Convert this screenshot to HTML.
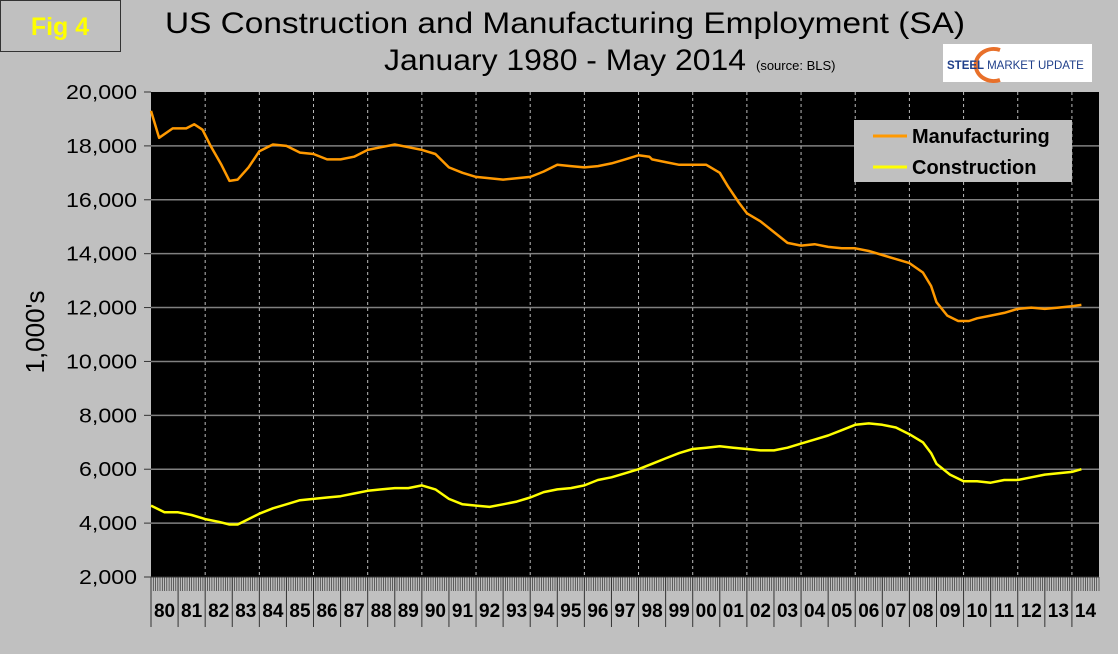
<!DOCTYPE html>
<html><head><meta charset="utf-8"><style>
body{margin:0;width:1118px;height:649px;background:#c0c0c0;overflow:hidden;font-family:"Liberation Sans",sans-serif}
</style></head><body>
<svg width="1118" height="649" viewBox="0 0 1118 649">
<rect x="0" y="0" width="1118" height="649" fill="#c0c0c0"/>
<rect x="0.5" y="0.5" width="120" height="51" fill="#c0c0c0" stroke="#333"/>
<text x="60" y="35" font-size="25" font-weight="bold" fill="#ffff00" text-anchor="middle">Fig 4</text>
<text x="165" y="33" font-size="30" textLength="800" lengthAdjust="spacingAndGlyphs" fill="#000">US Construction and Manufacturing Employment (SA)</text>
<text x="384" y="70" font-size="30" textLength="362" lengthAdjust="spacingAndGlyphs" fill="#000">January 1980 - May 2014</text>
<text x="756" y="70" font-size="13" fill="#000">(source: BLS)</text>
<g>
<rect x="943" y="44" width="149" height="38" fill="#fff"/>
<path d="M1000 50 A18 16 0 1 0 1000 80" fill="none" stroke="#e8702a" stroke-width="4"/>
<text x="947" y="69" font-size="11.5" font-weight="bold" fill="#1f3f8a">STEEL <tspan font-weight="normal">MARKET UPDATE</tspan></text>
</g>
<text transform="translate(44,332) rotate(-90)" font-size="26" text-anchor="middle" fill="#000">1,000's</text>
<g id="plot"></g>
</svg>
<script>
const yTicks=[2000,4000,6000,8000,10000,12000,14000,16000,18000,20000];
const yearLabels=["80","81","82","83","84","85","86","87","88","89","90","91","92","93","94","95","96","97","98","99","00","01","02","03","04","05","06","07","08","09","10","11","12","13","14"];
const mfgT=[1980,1980.3,1980.8,1981.3,1981.6,1981.9,1982.2,1982.6,1982.9,1983.2,1983.6,1984,1984.5,1985,1985.5,1986,1986.5,1987,1987.5,1988,1988.5,1989,1989.5,1990,1990.5,1991,1991.5,1992,1992.5,1993,1993.5,1994,1994.5,1995,1995.5,1996,1996.5,1997,1997.5,1998,1998.4,1998.5,1999,1999.5,2000,2000.5,2001,2001.3,2001.7,2002,2002.5,2003,2003.5,2004,2004.5,2005,2005.5,2006,2006.5,2007,2007.5,2008,2008.5,2008.8,2009,2009.4,2009.8,2010.2,2010.5,2011,2011.5,2012,2012.5,2013,2013.5,2014,2014.35];
const mfgV=[19300,18300,18650,18650,18800,18600,18000,17300,16700,16750,17200,17800,18050,18000,17750,17700,17500,17500,17600,17850,17950,18050,17950,17850,17700,17200,17000,16850,16800,16750,16800,16850,17050,17300,17250,17200,17250,17350,17500,17650,17600,17500,17400,17300,17300,17300,17000,16500,15900,15500,15200,14800,14400,14300,14350,14250,14200,14200,14100,13950,13800,13650,13300,12800,12200,11700,11500,11500,11600,11700,11800,11950,12000,11950,12000,12050,12100];
const conT=[1980,1980.5,1981,1981.5,1982,1982.5,1982.9,1983.2,1983.6,1984,1984.5,1985,1985.5,1986,1986.5,1987,1987.5,1988,1988.5,1989,1989.5,1990,1990.5,1991,1991.5,1992,1992.5,1993,1993.5,1994,1994.5,1995,1995.5,1996,1996.5,1997,1997.5,1998,1998.5,1999,1999.5,2000,2000.5,2001,2001.5,2002,2002.5,2003,2003.5,2004,2004.5,2005,2005.5,2006,2006.5,2007,2007.5,2008,2008.5,2008.8,2009,2009.5,2010,2010.5,2011,2011.5,2012,2012.5,2013,2013.5,2014,2014.35];
const conV=[4650,4400,4400,4300,4150,4050,3950,3950,4150,4350,4550,4700,4850,4900,4950,5000,5100,5200,5250,5300,5300,5400,5250,4900,4700,4650,4600,4700,4800,4950,5150,5250,5300,5400,5600,5700,5850,6000,6200,6400,6600,6750,6800,6850,6800,6750,6700,6700,6800,6950,7100,7250,7450,7650,7700,7650,7550,7300,7000,6600,6200,5800,5550,5550,5500,5600,5600,5700,5800,5850,5900,6000];
const L=151,R=1099,T=92,B=577,NS="http://www.w3.org/2000/svg";
const yr=(B-T)/18000, xpy=(R-L)/35;
const X=t=>L+(t-1980)*xpy, Y=v=>B-(v-2000)*yr;
const g=document.getElementById('plot');
function mk(tag,a){const e=document.createElementNS(NS,tag);for(const k in a)e.setAttribute(k,a[k]);g.appendChild(e);return e;}
let e=mk('rect',{x:L,y:T,width:R-L,height:B-T,fill:'#000'});


yTicks.forEach(v=>{
 if(v>2000&&v<20000){const l=mk('line',{x1:L,x2:R,y1:Y(v),y2:Y(v),stroke:'#808080','stroke-width':1.5});
 
 }
 const tk=mk('line',{x1:L-7,x2:L,y1:Y(v),y2:Y(v),stroke:'#333'});
 
 
 const t=mk('text',{x:L-14,y:Y(v)+7,'font-size':20,'text-anchor':'end',fill:'#000',textLength:71,lengthAdjust:'spacingAndGlyphs'});t.textContent=v.toLocaleString('en-US');
 if(v<10000){t.setAttribute('textLength',58);}
 
 
});
for(let i=2;i<35;i+=2){const d=mk('line',{x1:X(1980+i),x2:X(1980+i),y1:T,y2:B,stroke:'#bbb','stroke-dasharray':'3,3'});
 
 }
let p='';for(let m=0;m<=420;m++){const x=L+m*xpy/12;p+=`M${x.toFixed(1)} ${B}V${B+14}`;}
e=mk('path',{d:p,stroke:'#333','stroke-width':0.7,fill:'none'});


yearLabels.forEach((s,i)=>{
 const l=mk('line',{x1:X(1980+i),x2:X(1980+i),y1:B,y2:627,stroke:'#333'});
 
 
 const t=mk('text',{x:X(1980+i+0.5),y:617,'font-size':19,'font-weight':'bold','text-anchor':'middle',fill:'#000'});t.textContent=s;
 
 
});
e=mk('line',{x1:L,x2:R,y1:B,y2:B,stroke:'#333'});


e=mk('polyline',{points:mfgT.map((t,i)=>X(t).toFixed(1)+','+Y(mfgV[i]).toFixed(1)).join(' '),fill:'none',stroke:'#ff9900','stroke-width':2.5,'stroke-linejoin':'round'});


e=mk('polyline',{points:conT.map((t,i)=>X(t).toFixed(1)+','+Y(conV[i]).toFixed(1)).join(' '),fill:'none',stroke:'#ffff00','stroke-width':2.5,'stroke-linejoin':'round'});


e=mk('rect',{x:854,y:120,width:218,height:62,fill:'#c0c0c0'});


[['Manufacturing','#ff9900',136],['Construction','#ffff00',167]].forEach(([n,c,y])=>{
 const l=mk('line',{x1:873,x2:907,y1:y,y2:y,stroke:c,'stroke-width':3});
 
 
 const t=mk('text',{x:912,y:y+7,'font-size':20,'font-weight':'bold',fill:'#000'});t.textContent=n;
 
 
});
</script>
</body></html>
